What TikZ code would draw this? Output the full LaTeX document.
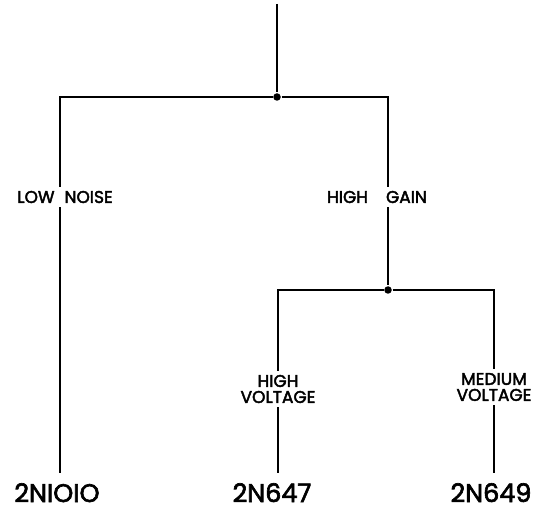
\documentclass[tikz,border=0pt]{standalone}
\usepackage{fontspec}
\setmainfont{Poppins}[FakeBold=2.5]

\begin{document}
\begin{tikzpicture}[x=1pt, y=-1pt, line width=1.5pt,
  dot/.style={circle, fill, inner sep=0pt, minimum size=7.5pt},
  branch/.style={fill=white, inner sep=4pt, align=center, font=\fontsize{17}{16}\selectfont},
  part/.style={anchor=base, inner sep=0pt, font=\fontsize{25.5}{28}\selectfont}]
\useasboundingbox (0,0) rectangle (538,510);
\coordinate (top) at (277,4);
\node[dot] (j1) at (277,97) {};
\node[dot] (j2) at (388,290) {};
\node[part] (n1010) at (57,502) {2NIOIO};
\node[part] (n647) at (272,502) {2N647};
\node[part] (n649) at (491,502) {2N649};
\draw (top) -- (j1);
\draw (j1) -| ([xshift=3pt,yshift=9pt]n1010.north);
\draw (j1) -| (j2);
\draw (j2) -| ([xshift=6pt,yshift=9pt]n647.north);
\draw (j2) -| ([xshift=3pt,yshift=9pt]n649.north);
\node[branch] (lownoise) at (65,197) {LOW\hspace{10pt}NOISE};
\node[branch] (highgain) at (377,197) {HIGH\hspace{18pt}GAIN};
\node[branch] (highvolt) at (278,389) {HIGH\\VOLTAGE};
\node[branch] (medvolt) at (494,387) {MEDIUM\\VOLTAGE};
\end{tikzpicture}
\end{document}
